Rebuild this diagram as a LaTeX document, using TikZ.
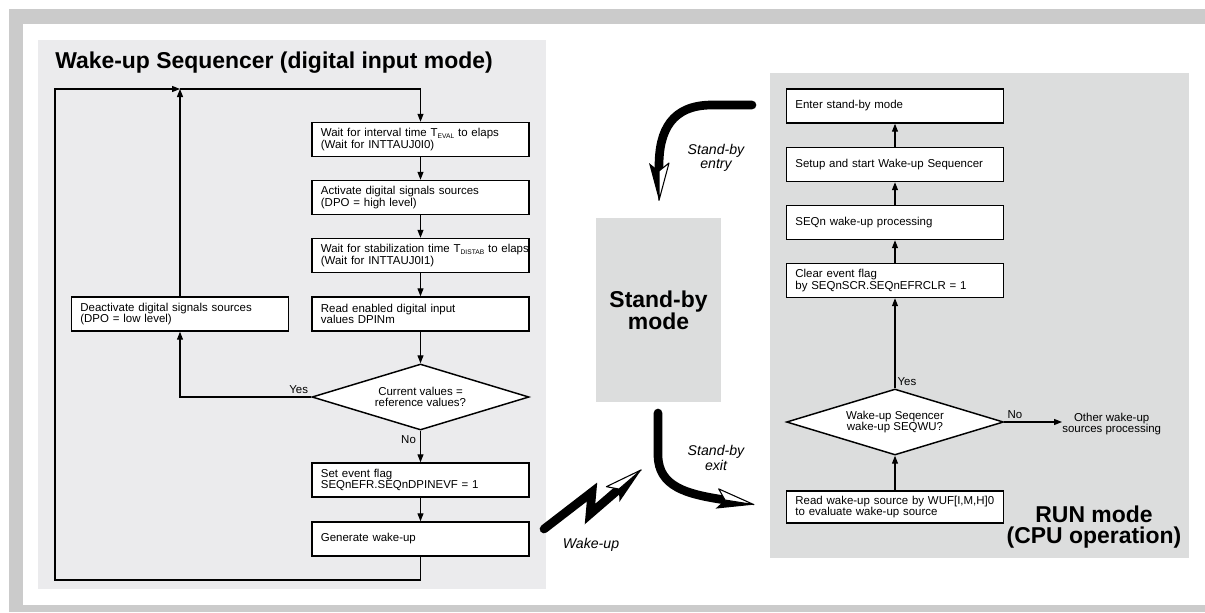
\documentclass[tikz,border=0pt]{standalone}
\usepackage{fontspec}
\setmainfont{Liberation Sans}
\usetikzlibrary{arrows.meta,shapes.geometric,decorations.markings}

\definecolor{framegray}{HTML}{CBCBCB}
\definecolor{seqgray}{HTML}{EBEBED}
\definecolor{rungray}{HTML}{DCDDDD}
\newcommand{\lowsub}[1]{\raisebox{-1.3pt}{\fontsize{5}{5}\selectfont #1}}

\begin{document}
\begin{tikzpicture}[x=0.75pt,y=-0.75pt,>={Triangle[length=6pt,width=4.5pt]},
  box/.style={draw,line width=1.1pt,fill=white,text width=160pt,inner xsep=1.4pt,
    minimum height=25.5pt,align=left,font=\fontsize{8.6}{8.3}\selectfont,
    execute at begin node={\leftskip=5.3pt}},
  dec/.style={draw,line width=1.1pt,fill=white,diamond,aspect=3.3,inner sep=1pt,
    minimum width=162.75pt,minimum height=49.5pt,align=center,font=\fontsize{8.6}{8.3}\selectfont},
  lbl/.style={font=\fontsize{8.6}{8.3}\selectfont,inner sep=2pt},
  big/.style={font=\bfseries\fontsize{17.2}{16.5}\selectfont,align=center},
  note/.style={font=\itshape\fontsize{10.6}{9}\selectfont,align=center,inner sep=0pt},
  flow/.style={->,line width=0.9pt},
  bigarrow/.style={line width=6.5pt,line cap=round,postaction={decorate,decoration={markings,
    mark=at position 1 with {
      \fill (22pt,0pt) -- (-6pt,-7.5pt) -- (0pt,0pt) -- cycle;
      \filldraw[fill=white,line width=0.8pt,line join=round] (22pt,0pt) -- (-6pt,7.5pt) -- (0pt,0pt) -- cycle;}}}}]
\useasboundingbox (0,0) rectangle (1205,612);
\fill[framegray] (9,9) rectangle (1205,612);
\fill[white] (23,24) rectangle (1205,605);
\fill[seqgray] (38,40) rectangle (546,589);
\fill[rungray] (770,73) rectangle (1189,558);

% wake-up sequencer
\node[big,anchor=base west,inner sep=0pt] (title) at (55,68) {Wake-up Sequencer (digital input mode)};
\node[box] (b1) at (420.5,139.5) {\mbox{Wait for interval time T\lowsub{EVAL} to elaps}\\(Wait for INTTAUJ0I0)};
\node[box] (b2) at (420.5,197.5) {Activate digital signals sources\\(DPO = high level)};
\node[box] (b3) at (420.5,255.5) {\mbox{Wait for stabilization time T\lowsub{DISTAB} to elaps}\\(Wait for INTTAUJ0I1)};
\node[box] (b4) at (420.5,314) {Read enabled digital input\\values DPINm};
\node[dec] (dec) at (420.5,397) {Current values =\\reference values?};
\node[box] (b5) at (420.5,480) {Set event flag\\SEQnEFR.SEQnDPINEVF = 1};
\node[box] (b6) at (420.5,539) {Generate wake-up};
\node[box] (deact) at (180,314) {Deactivate digital signals sources\\(DPO = low level)};
\coordinate (lpb) at (55,580);
\coordinate (lpt) at (55,89);
\coordinate (join) at (180,89);

\draw[flow] (b1) -- (b2);
\draw[flow] (b2) -- (b3);
\draw[flow] (b3) -- (b4);
\draw[flow] (b4) -- (dec);
\draw[flow] (dec) -- node[lbl,pos=0,anchor=north east,inner sep=3pt]{No} (b5);
\draw[flow] (b5) -- (b6);
\draw[flow] (dec) -| node[lbl,pos=0,anchor=south east]{Yes} (deact);
\draw[flow] (deact) -- (join);
\draw[flow] (b6) |- (lpb) -- (lpt) -- (join);
\draw[flow] (join) -| (b1);

% stand-by
\node[big,fill=rungray,minimum width=93.75pt,minimum height=138pt] (sby) at (658.5,310) {Stand-by\\mode};
\coordinate (entA) at (752,105);
\coordinate (entB) at (659,171);
\coordinate (exA) at (658,413);
\coordinate (exB) at (725,500);
\coordinate (wkA) at (544,529);
\coordinate (wkB) at (619,489);
\draw[bigarrow] (entA) -- (712,105) .. controls (672,105) and (659,130) .. (659,166) -- (entB);
\draw[bigarrow] (exA) -- (658,455) .. controls (658,487) and (688,494) .. (720,499.2) -- (exB);
\draw[bigarrow] (wkA) -- (592,492) -- (590,514) -- (wkB);
\node[note] (entL) at (716,158) {Stand-by\\entry};
\node[note] (exL) at (716,458) {Stand-by\\exit};
\node[note] (wkL) at (591,545) {Wake-up};

% run mode
\node[box] (enter) at (895,106) {Enter stand-by mode};
\node[box] (setup) at (895,164.5) {Setup and start Wake-up Sequencer};
\node[box] (seqn) at (895,222.5) {SEQn wake-up processing};
\node[box] (clr) at (895,280.5) {Clear event flag\\by SEQnSCR.SEQnEFRCLR = 1};
\node[dec] (wdec) at (895,422) {Wake-up Seqencer\\wake-up SEQWU?};
\node[box,minimum height=24pt] (rd) at (895,507) {Read wake-up source by WUF[I,M,H]0\\to evaluate wake-up source};
\node[lbl,align=center,anchor=west,inner sep=0pt] (other) at (1062,424) {Other wake-up\\sources processing};
\node[big,font=\bfseries\fontsize{17.2}{16.2}\selectfont] (run) at (1094,527) {RUN mode\\(CPU operation)};

\draw[flow] (rd) -- (wdec);
\draw[flow] (wdec) -- node[lbl,pos=0,anchor=south west,inner sep=1.5pt]{Yes} (clr);
\draw[flow] (clr) -- (seqn);
\draw[flow] (seqn) -- (setup);
\draw[flow] (setup) -- (enter);
\draw[flow] (wdec) -- node[lbl,pos=0,anchor=south west]{No} (wdec.east -| other.west);
\end{tikzpicture}
\end{document}
